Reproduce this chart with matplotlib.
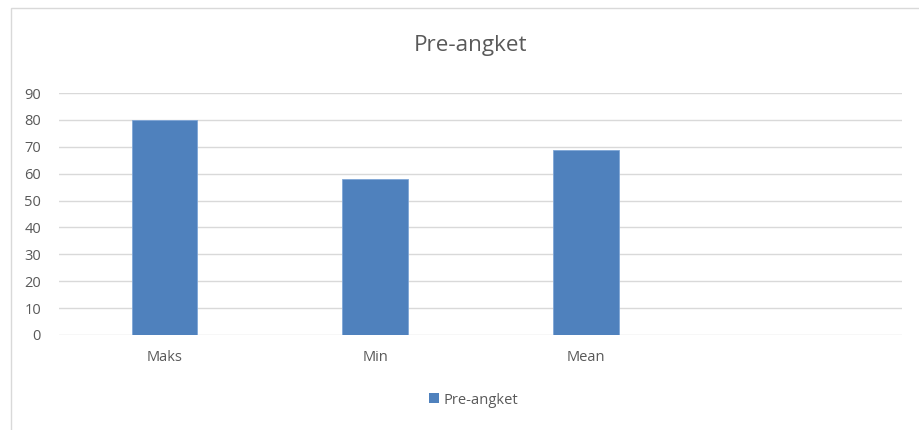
import matplotlib.pyplot as plt
from matplotlib.patches import Rectangle, Patch

# data
categories = ["Maks", "Min", "Mean"]
values = [80, 58, 68.7]
series_name = "Pre-angket"
yticks = [0, 10, 20, 30, 40, 50, 60, 70, 80, 90]

plt.rcParams['font.family'] = ['Open Sans', 'DejaVu Sans']
text_col = "#595959"
bar_col = "#4f81bd"

fig = plt.figure(figsize=(9.2, 4.3), dpi=100)
ax = fig.add_axes([59 / 920, 1 - 335 / 430, (902 - 59) / 920, (335 - 93) / 430])

x = list(range(len(categories)))
ax.bar(x, values, width=0.31, color=bar_col, edgecolor="#7fa6d6", linewidth=0.6, zorder=3)

ax.set_xlim(-0.5, 3.5)  # excel left one empty slot on the right
ax.set_ylim(0, 90)
ax.set_yticks(yticks)
ax.set_xticks(x)
ax.set_xticklabels(categories)
ax.tick_params(axis="both", length=0, labelsize=10.5, colors=text_col)
ax.tick_params(axis="y", pad=13)
ax.tick_params(axis="x", pad=10.5)
ax.grid(axis="y", color="#d9d9d9", linewidth=1, zorder=0)
for s in ax.spines.values():
    s.set_visible(False)

fig.text(471 / 920, 1 - 46 / 430, series_name, ha="center", va="center", fontsize=16.2, color=text_col)

leg = fig.legend(handles=[Patch(facecolor=bar_col, label=series_name)],
                 loc="center", bbox_to_anchor=(474 / 920, 1 - 400 / 430), frameon=False,
                 fontsize=10.6, handlelength=0.65, handleheight=0.65, handletextpad=0.35)
for t in leg.get_texts():
    t.set_color(text_col)

# chart area border (clipped on the right and bottom in the screenshot)
fig.patches.append(Rectangle((11 / 920, -0.1), 1.2, 1 - 8 / 430 + 0.1, transform=fig.transFigure,
                             fill=False, edgecolor="#d9d9d9", linewidth=1))

plt.savefig("out.png", dpi=100)
plt.close()
